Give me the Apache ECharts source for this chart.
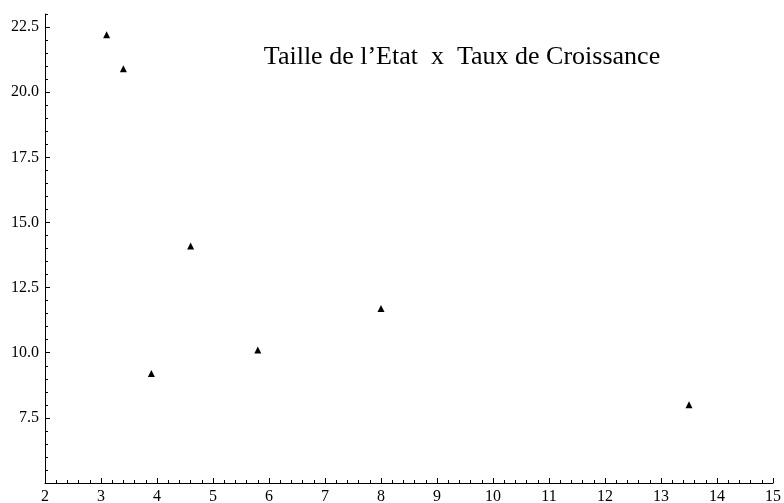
<!DOCTYPE html>
<html>
<head>
<meta charset="utf-8">
<script src="https://cdn.jsdelivr.net/npm/echarts@6/dist/echarts.min.js"></script>
<style>
  html, body { margin: 0; padding: 0; background: #fff; }
  #chart { width: 784px; height: 503px; }
</style>
</head>
<body>
<div id="chart"></div>
<script>
// Taille de l'Etat vs Taux de Croissance
const tailleEtat = [3.1, 3.4, 3.9, 4.6, 5.8, 8.0, 13.5]
const tauxCroissance = [22.2, 20.9, 9.2, 14.1, 10.1, 11.7, 8.0]
const yTickLabels = [7.5, 10, 12.5, 15, 17.5, 20, 22.5]
const titleText = 'Taille de l\u2019Etat  x  Taux de Croissance'

const serif = 'Liberation Serif'
const points = tailleEtat.map((x, i) => [x, tauxCroissance[i]])

const chart = echarts.init(document.getElementById('chart'), null, { renderer: 'canvas' })

const option = {
  backgroundColor: '#fff',
  animation: false,
  title: {
    text: titleText,
    left: 457,
    top: 39,
    textAlign: 'center',
    textStyle: { fontFamily: serif, fontSize: 26, fontWeight: 'normal', color: '#000' }
  },
  grid: { left: 45, right: 11, top: 14, bottom: 20, containLabel: false, outerBoundsMode: 'none' },
  xAxis: [{
    // major ticks + labels
    type: 'value', min: 2, max: 15, interval: 1,
    axisLine: { show: true, lineStyle: { color: '#000', width: 1 } },
    axisTick: { show: true, inside: true, length: 5, lineStyle: { color: '#000' } },
    axisLabel: { fontFamily: serif, fontSize: 16, color: '#000', margin: 6 },
    splitLine: { show: false }
  }, {
    // minor ticks
    type: 'value', min: 2, max: 15, interval: 0.2, position: 'bottom',
    axisLine: { show: false },
    axisTick: { show: true, inside: true, length: 3, lineStyle: { color: '#000' } },
    axisLabel: { show: false },
    splitLine: { show: false }
  }],
  yAxis: [{
    type: 'value', min: 5, max: 23, position: 'left',
    axisLine: { show: true, lineStyle: { color: '#000', width: 1 } },
    axisTick: { show: true, inside: true, length: 5, customValues: yTickLabels, lineStyle: { color: '#000' } },
    axisLabel: {
      fontFamily: serif, fontSize: 16, color: '#000', margin: 6,
      customValues: yTickLabels,
      formatter: v => v.toFixed(1)
    },
    splitLine: { show: false }
  }, {
    type: 'value', min: 5, max: 23, interval: 0.5, position: 'left',
    axisLine: { show: false },
    axisTick: { show: true, inside: true, length: 3, lineStyle: { color: '#000' } },
    axisLabel: { show: false },
    splitLine: { show: false }
  }],
  series: [{
    type: 'scatter',
    xAxisIndex: 0,
    yAxisIndex: 0,
    data: points,
    symbol: 'triangle',
    symbolSize: 7,
    itemStyle: { color: '#000', opacity: 1 }
  }]
}

chart.setOption(option)
</script>
</body>
</html>
